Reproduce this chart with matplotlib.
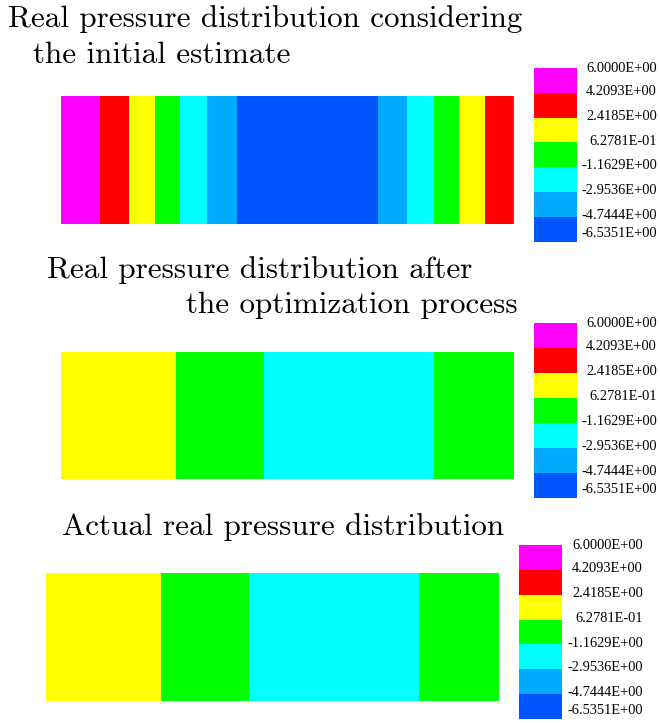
import numpy as np
import matplotlib
matplotlib.use('Agg')
import matplotlib.pyplot as plt
from matplotlib.colors import ListedColormap, BoundaryNorm

# niveaux de la legende (de bas en haut) et couleurs
levels = [-6.5351, -4.7444, -2.9536, -1.1629, 0.62781, 2.4185, 4.2093, 6.0]
level_labels = ['-6.5351E+00', '-4.7444E+00', '-2.9536E+00', '-1.1629E+00',
                '6.2781E-01', '2.4185E+00', '4.2093E+00', '6.0000E+00']
colors = ['#0055FF', '#00AAFF', '#00FFFF', '#00FF00', '#FFFF00', '#FF0000', '#FF00FF']

# bandes : bords des segments (fraction de la longueur) et pression estimee
edges1 = [0.0, 0.0855, 0.150, 0.2076, 0.262, 0.3225, 0.3888, 0.700, 0.764,
          0.824, 0.879, 0.9366, 0.998, 1.0]
press1 = [5.4, 3.4, 1.5, -0.3, -2.1, -3.9, -5.8, -3.9, -2.1, -0.3, 1.5, 3.3, 5.4]
edges2 = [0.0, 0.2534, 0.4478, 0.824, 1.0]
press2 = [1.5, -0.3, -2.1, -0.3]
edges3 = [0.0, 0.2539, 0.4481, 0.8234, 1.0]
press3 = [1.5, -0.3, -2.1, -0.3]

cmap = ListedColormap(colors)
norm = BoundaryNorm(levels, cmap.N)

W, H = 660, 723
fig = plt.figure(figsize=(W / 100, H / 100), dpi=100)


def rect(x0, y0, x1, y1):
    # pixels (origine en haut a gauche) -> fraction de figure
    return [x0 / W, 1 - y1 / H, (x1 - x0) / W, (y1 - y0) / H]


def strip(r, edges, press):
    ax = fig.add_axes(rect(*r))
    ax.pcolormesh(edges, [0, 1], np.array(press)[np.newaxis, :], cmap=cmap, norm=norm)
    ax.set_xlim(0, 1)
    ax.set_ylim(0, 1)
    ax.axis('off')


def legend(r, xr):
    ax = fig.add_axes(rect(*r))
    mids = [(levels[i] + levels[i + 1]) / 2 for i in range(len(levels) - 1)]
    ax.pcolormesh([0, 1], levels, np.array(mids)[:, np.newaxis], cmap=cmap, norm=norm)
    ax.set_xlim(0, 1)
    ax.set_ylim(levels[0], levels[-1])
    ax.axis('off')
    lo, hi = levels[0], levels[-1]
    xt = (xr - r[0]) / (r[2] - r[0])
    for v, lab in zip(levels, level_labels):
        f = (v - lo) / (hi - lo)
        f = min(max(f, 0.04), 0.99) + 0.008
        ax.text(xt, f, lab, transform=ax.transAxes, ha='right', va='center',
                fontsize=10.4, family='Liberation Serif', clip_on=False)


def title(x, y, s):
    fig.text(x / W, 1 - y / H, s, family='cmr10', fontsize=22.4, ha='left', va='baseline')


# panneau 1
title(8, 27, 'Real pressure distribution considering')
title(33, 63, 'the initial estimate')
strip((61, 96, 513.7, 224), edges1, press1)
legend((534, 68, 577, 241.7), 657)

# panneau 2
title(47, 278, 'Real pressure distribution after')
title(186, 313, 'the optimization process')
strip((61, 352, 513.7, 478.7), edges2, press2)
legend((534, 322.7, 577, 498.3), 657)

# panneau 3
title(62, 535, 'Actual real pressure distribution')
strip((46, 573, 499, 700.7), edges3, press3)
legend((519, 545, 562, 719), 643)

fig.savefig('out.png', dpi=100)
